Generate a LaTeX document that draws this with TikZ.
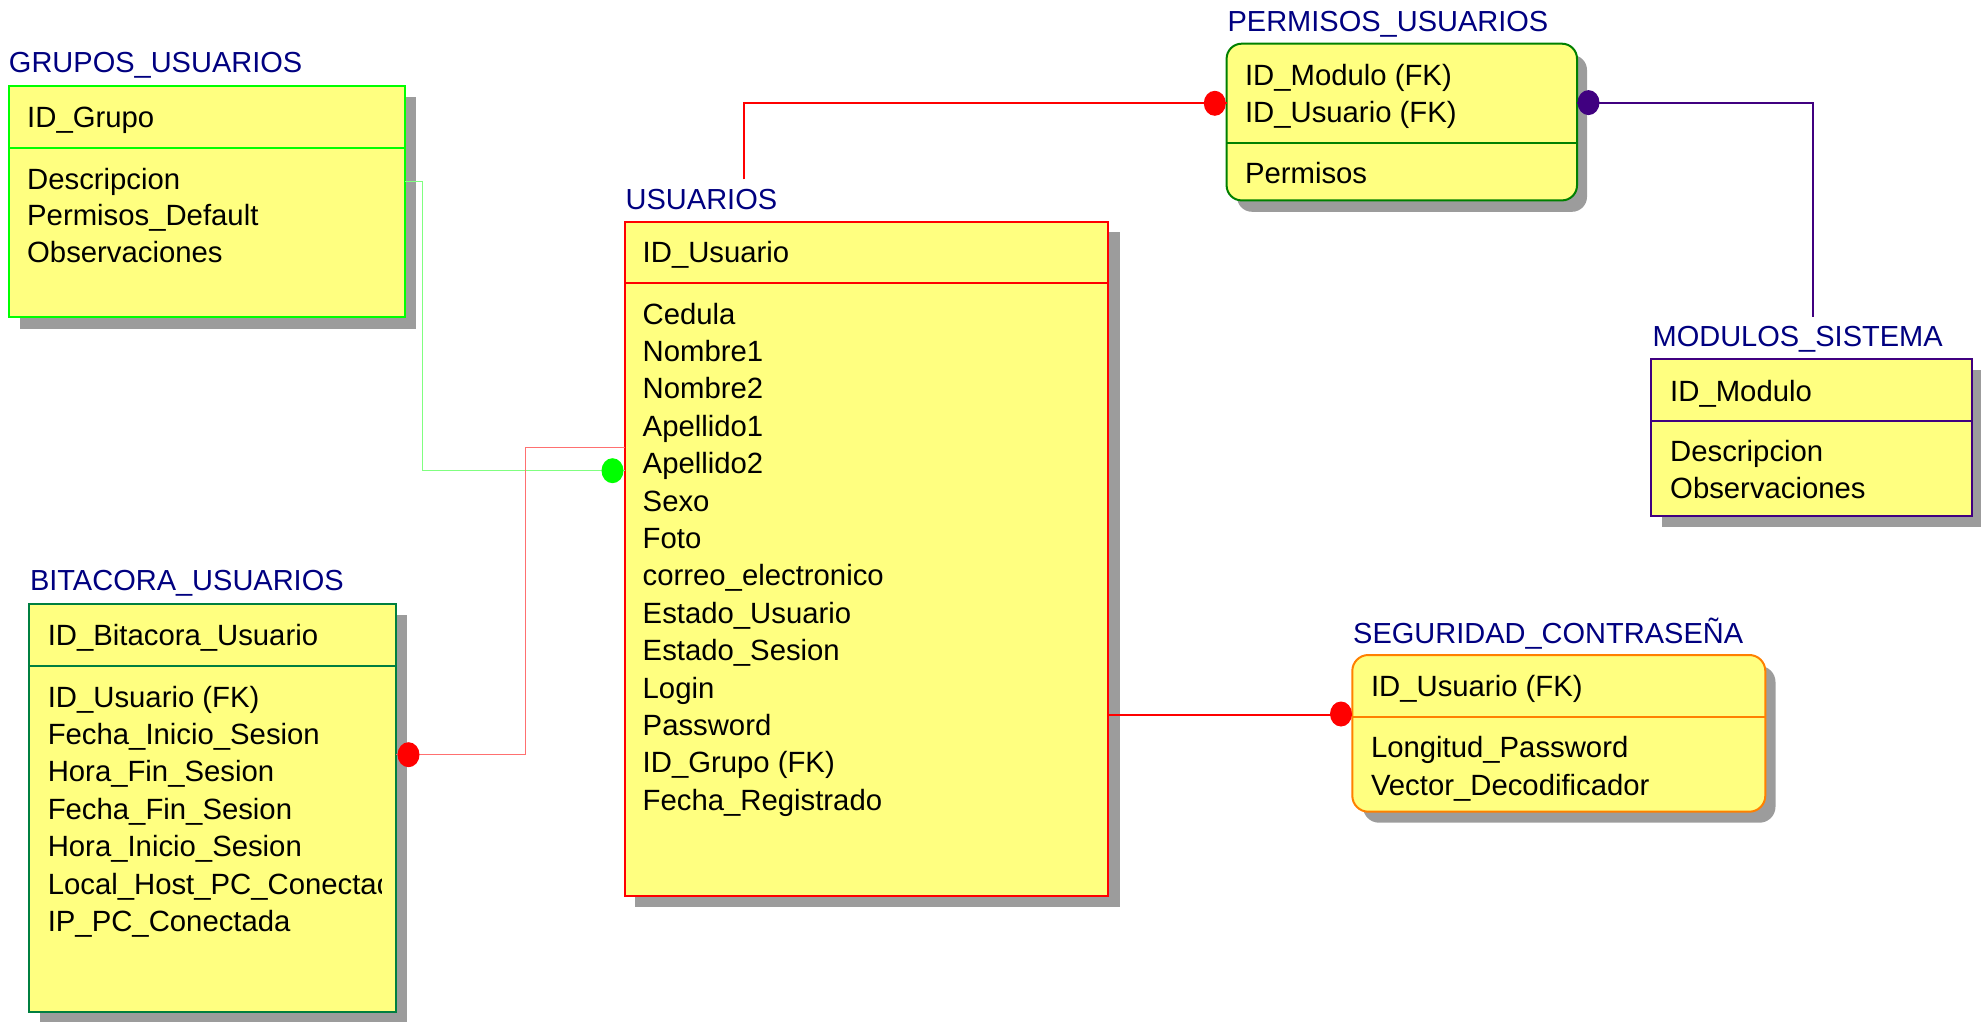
\documentclass[tikz,border=0pt]{standalone}
\usepackage{fontspec}
\setmainfont{Liberation Sans}
\usetikzlibrary{shapes.geometric}
\definecolor{fillY}{HTML}{FFFF80}
\definecolor{ttlC}{HTML}{000080}
\definecolor{shdC}{HTML}{9C9C9C}
\definecolor{grnB}{HTML}{00FF00}
\definecolor{grnD}{HTML}{008000}
\definecolor{bitB}{HTML}{007F40}
\definecolor{orgB}{HTML}{FF8000}
\definecolor{purB}{HTML}{400080}
\definecolor{redB}{HTML}{FF0000}
\definecolor{redT}{HTML}{FF7070}
\definecolor{grnT}{HTML}{80FF80}
\begin{document}
\begin{tikzpicture}[x=1pt,y=-1pt,
  every node/.style={inner sep=0pt,outer sep=0pt},
  ent/.style={draw,fill=fillY,line width=2pt,anchor=north west,rectangle},
  shd/.style={fill=shdC,draw=none},
  attr/.style={anchor=base west,font=\fontsize{29.3}{35}\selectfont,text=black},
  ttl/.style={anchor=base west,font=\fontsize{29}{35}\selectfont,text=ttlC},
  dotn/.style={ellipse,draw=none,minimum width=22pt,minimum height=25pt},
  div/.style={line width=2pt}]
\useasboundingbox (0,0) rectangle (1986,1022);

% ---------- GRUPOS_USUARIOS ----------
\fill[shd] (20,97) rectangle (416,328.7);
\node[ent,draw=grnB,minimum width=395.6pt,minimum height=231pt] (grp) at (9.4,85.7) {};
\draw[div,grnB] (grp.west |- 0,147.7) -- (grp.east |- 0,147.7);
\node[ttl] (grpT) at (9,73) {GRUPOS\_USUARIOS};
\node[attr] (g0) at (27.2,128) {ID\_Grupo};
\node[attr] (g1) at (27.2,189) {Descripcion};
\node[attr] (g2) at (27.2,225.7) {Permisos\_Default};
\node[attr] (g3) at (27.2,262) {Observaciones};

% ---------- USUARIOS ----------
\fill[shd] (635,232) rectangle (1119.5,907);
\node[ent,draw=redB,minimum width=483.4pt,minimum height=674pt] (usr) at (624.9,221.7) {};
\draw[div,redB] (usr.west |- 0,282.7) -- (usr.east |- 0,282.7);
\node[ttl] (usrT) at (625.7,209) {USUARIOS};
\node[attr] (u0) at (642.7,262.7) {ID\_Usuario};
\foreach \t [count=\i from 0] in {Cedula,Nombre1,Nombre2,Apellido1,Apellido2,Sexo,Foto,correo\_electronico,Estado\_Usuario,Estado\_Sesion,Login,Password,ID\_Grupo (FK),Fecha\_Registrado}
  \node[attr] (ua\i) at (642.7,324+37.4*\i) {\t};

% ---------- PERMISOS_USUARIOS ----------
\fill[shd,rounded corners=15pt] (1237,55) rectangle (1587,211.8);
\node[ent,draw=grnD,rounded corners=15pt,minimum width=350.4pt,minimum height=156.7pt] (per) at (1226.6,43.7) {};
\draw[div,grnD] (per.west |- 0,142.9) -- (per.east |- 0,142.9);
\node[ttl] (perT) at (1227.6,31.7) {PERMISOS\_USUARIOS};
\node[attr] (p0) at (1245,86) {ID\_Modulo (FK)};
\node[attr] (p1) at (1245,123) {ID\_Usuario (FK)};
\node[attr] (p2) at (1245,183.2) {Permisos};

% ---------- MODULOS_SISTEMA ----------
\fill[shd] (1662,370) rectangle (1981,526.9);
\node[ent,draw=purB,minimum width=321pt,minimum height=156.3pt] (mod) at (1651,359.2) {};
\draw[div,purB] (mod.west |- 0,420.5) -- (mod.east |- 0,420.5);
\node[ttl] (modT) at (1652.6,346) {MODULOS\_SISTEMA};
\node[attr] (m0) at (1670.2,401.2) {ID\_Modulo};
\node[attr] (m1) at (1670.2,461.4) {Descripcion};
\node[attr] (m2) at (1670.2,498.3) {Observaciones};

% ---------- SEGURIDAD_CONTRASEÑA ----------
\fill[shd,rounded corners=16pt] (1363,666) rectangle (1775.5,822.7);
\node[ent,draw=orgB,rounded corners=16pt,minimum width=413pt,minimum height=156.7pt] (seg) at (1352.3,655) {};
\draw[div,orgB] (seg.west |- 0,716.7) -- (seg.east |- 0,716.7);
\node[ttl] (segT) at (1353.2,643.3) {SEGURIDAD\_CONTRASEÑA};
\node[attr] (s0) at (1371,696.7) {ID\_Usuario (FK)};
\node[attr] (s1) at (1371,757) {Longitud\_Password};
\node[attr] (s2) at (1371,795) {Vector\_Decodificador};

% ---------- BITACORA_USUARIOS ----------
\fill[shd] (40,615) rectangle (407,1022);
\node[ent,draw=bitB,minimum width=367pt,minimum height=407.6pt] (bit) at (29,604.3) {};
\draw[div,bitB] (bit.west |- 0,665.7) -- (bit.east |- 0,665.7);
\node[ttl] (bitT) at (30,590.8) {BITACORA\_USUARIOS};
\node[attr] (b0) at (47.8,645.7) {ID\_Bitacora\_Usuario};
\begin{scope}
  \clip (29,604.3) rectangle (381,1011.9);
  \foreach \t [count=\i from 0] in {ID\_Usuario (FK),Fecha\_Inicio\_Sesion,Hora\_Fin\_Sesion,Fecha\_Fin\_Sesion,Hora\_Inicio\_Sesion,Local\_Host\_PC\_Conectada,IP\_PC\_Conectada}
    \node[attr] (ba\i) at (47.8,707.1+37.4*\i) {\t};
\end{scope}

% ---------- connectors ----------
\coordinate (gBend) at (422.3,181.7);
\draw[grnT,line width=1.3pt] (grp.east |- gBend) -- (gBend) |- (usr.west |- 0,470.7);
\node[dotn,fill=grnB] (dG) at (612.5,470.7) {};

\coordinate (bBend) at (525.4,754.7);
\draw[redT,line width=1.3pt] (bit.east |- bBend) -- (bBend) |- (usr.west |- 0,447.6);
\node[dotn,fill=redB] (dB) at (408.5,754.7) {};

\coordinate (uTop) at (744.3,179.3);
\draw[redB,line width=2pt] (uTop) |- (per.west |- 0,103.3);
\node[dotn,fill=redB] (dP) at (1214.8,103.3) {};

\draw[redB,line width=2pt] (usr.east |- 0,715) -- (seg.west |- 0,715);
\node[dotn,fill=redB] (dS) at (1341,714) {};

\coordinate (mTop) at (1812.5,316.8);
\draw[purB,line width=2pt] (per.east |- 0,102.6) -| (mTop);
\node[dotn,fill=purB] (dM) at (1588.5,102.6) {};
\end{tikzpicture}
\end{document}
